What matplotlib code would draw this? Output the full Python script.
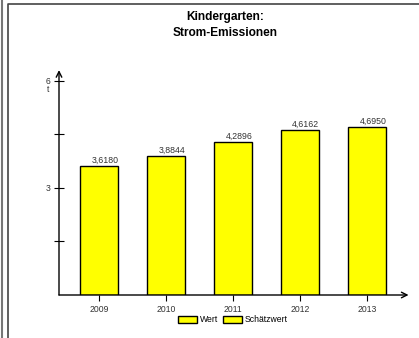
import matplotlib.pyplot as plt
from matplotlib.patches import Patch
from matplotlib.lines import Line2D

years = [2009, 2010, 2011, 2012, 2013]
werte = [3.6180, 3.8844, 4.2896, 4.6162, 4.6950]
labels = ["3,6180", "3,8844", "4,2896", "4,6162", "4,6950"]

plt.rcParams['font.family'] = ['Liberation Sans', 'DejaVu Sans']
plt.rcParams['hatch.color'] = 'white'
plt.rcParams['hatch.linewidth'] = 1.0

W, H = 419, 338
fig = plt.figure(figsize=(W / 100, H / 100), dpi=100)

# axes area in pixels
left, right, bottom, top = 59, 410, 295, 65
ax = fig.add_axes([left / W, (H - bottom) / H, (right - left) / W, (bottom - top) / H])
ax.set_xlim(2009 - 40 / 67, 2009 + (right - 99) / 67)
ax.set_ylim(0, (bottom - top) / 35.7)

ax.bar(years, werte, width=0.58, color='#ffff00', edgecolor='black', linewidth=1, zorder=2)
for x, v, s in zip(years, werte, labels):
    ax.text(x + 0.29, v + 0.04, s, ha='right', va='bottom', fontsize=6.3, color='#333333')

for s in ax.spines.values():
    s.set_visible(False)

# axis lines with arrows
ax.annotate('', xy=(2008.403, 6.3), xytext=(2008.403, 0),
            arrowprops=dict(arrowstyle='->', lw=1, color='black', shrinkA=0, shrinkB=0), annotation_clip=False)
ax.annotate('', xy=(2013.62, 0), xytext=(2008.403, 0),
            arrowprops=dict(arrowstyle='->', lw=1, color='black', shrinkA=0, shrinkB=0), annotation_clip=False)

ax.set_yticks([3, 6])
ax.set_yticklabels(['3', '6'])
ax.set_yticks([1.5, 4.5], minor=True)
ax.tick_params(axis='y', which='both', direction='inout', length=7, width=0.8, labelsize=6.2,
               labelcolor='#333333', pad=3)
ax.set_xticks(years)
ax.set_xticklabels([str(y) for y in years])
ax.tick_params(axis='x', direction='out', length=4, width=0.8, labelsize=6.2,
               labelcolor='#333333', pad=3)
ax.text(2008.403 - 0.16, 5.75, 't', ha='center', va='center', fontsize=6.2, color='#333333')

fig.text(225 / W, 1 - 25 / H, 'Kindergarten:\nStrom-Emissionen', ha='center', va='center',
         fontsize=8.6, fontweight='bold', linespacing=1.35)

handles = [Patch(facecolor='#ffff00', edgecolor='black', label='Wert'),
           Patch(facecolor='#ffff00', edgecolor='black', hatch='vv', label='Schätzwert')]
fig.legend(handles=handles, loc='center', bbox_to_anchor=(233 / W, 1 - 320 / H), ncol=2,
           frameon=False, fontsize=6.2, handlelength=2.2, handleheight=0.8, handletextpad=0.3,
           columnspacing=0.6, borderpad=0)

# page frame
fig.add_artist(Line2D([1.5 / W, 1.5 / W], [0, 1], color='#777777', lw=1.5))
fig.add_artist(Line2D([8 / W, 8 / W, 1], [0, 1 - 4 / H, 1 - 4 / H], color='#444444', lw=1.2))

fig.savefig('out.png', dpi=100)
